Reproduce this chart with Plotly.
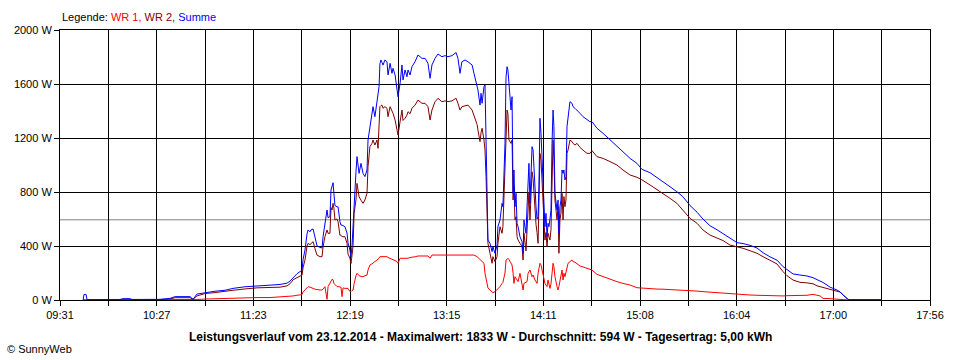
import plotly.graph_objects as go

# ---- data (time in minutes after midnight, power in W) ----
TIME_MIN = [
    584.4, 584.9, 586.1, 586.7, 588.4, 605.8, 607.6, 611.6, 612.8, 629.0,
    634.9, 637.8, 646.5, 648.2, 650.5, 655.2, 661.0, 666.8, 671.4, 678.4,
    685.4, 692.9, 698.7, 702.8, 704.5, 706.3, 708.6, 710.3, 711.5, 712.1,
    713.2, 714.4, 715.0, 716.1, 716.7, 717.9, 719.0, 720.2, 721.9, 723.1,
    723.7, 724.8, 726.0, 726.6, 727.7, 728.3, 728.9, 729.5, 730.0, 730.6,
    731.8, 732.4, 733.5, 734.1, 734.7, 735.3, 736.4, 737.6, 738.2, 739.3,
    739.9, 740.5, 741.1, 741.7, 742.2, 742.8, 743.4, 744.0, 744.6, 745.7,
    746.9, 748.0, 749.2, 749.8, 750.9, 752.1, 752.7, 753.8, 755.0, 755.6,
    756.2, 756.7, 757.3, 757.9, 758.5, 759.6, 760.8, 761.4, 762.6, 763.7,
    764.3, 765.5, 766.6, 767.2, 768.4, 769.5, 770.1, 771.3, 772.4, 773.0,
    774.2, 775.3, 777.1, 778.8, 781.1, 782.9, 784.6, 785.8, 786.9, 788.7,
    790.4, 792.7, 794.5, 796.2, 798.5, 800.9, 802.0, 803.2, 804.3, 806.1,
    807.8, 810.2, 811.3, 813.1, 813.6, 814.8, 815.4, 816.0, 817.1, 817.7,
    818.3, 818.9, 819.4, 820.6, 821.8, 822.3, 823.5, 824.7, 825.2, 826.4,
    827.6, 828.1, 829.3, 829.9, 830.5, 831.0, 831.6, 832.8, 833.4, 834.0,
    834.5, 835.1, 835.7, 836.3, 836.9, 838.0, 839.2, 839.8, 840.3, 841.5,
    842.1, 842.7, 843.2, 843.8, 845.0, 845.6, 846.7, 847.3, 847.9, 848.5,
    849.0, 849.6, 850.2, 850.8, 851.4, 851.9, 852.5, 853.1, 853.7, 854.3,
    854.8, 855.4, 856.0, 856.6, 857.2, 857.7, 858.3, 859.5, 860.1, 860.6,
    861.2, 861.8, 862.4, 863.0, 863.5, 864.1, 864.7, 865.3, 865.9, 867.0,
    868.2, 868.8, 869.9, 871.1, 872.8, 874.6, 876.9, 878.6, 879.8, 882.7,
    886.2, 890.3, 894.3, 897.8, 901.9, 905.9, 908.8, 913.5, 917.5, 921.0,
    925.1, 929.1, 932.6, 936.7, 940.8, 944.2, 948.3, 952.4, 955.9, 959.9,
    964.0, 967.5, 971.5, 975.6, 979.1, 983.1, 987.2, 990.7, 993.0, 996.5,
    1000.5, 1004.6, 1008.1, 1010.4, 1012.2, 1013.9, 1016.2, 1018.0, 1022.0, 1023.8,
    1025.5, 1027.8, 1028.4, 1029.6, 1048.1,
]

WR1_W = [
    0, 0, 0, 0, 0, 0, 0, 0, 0, 0,
    0, 0, 2, 2, 4, 7, 10, 12, 15, 16,
    18, 18, 22, 25, 27, 30, 35, 35, 40, 60,
    74, 90, 99, 95, 90, 86, 80, 76, 74, 74,
    80, 99, 5, 99, 123, 130, 153, 150, 123, 115,
    99, 99, 99, 95, 25, 90, 86, 86, 86, 62,
    62, 70, 74, 120, 160, 180, 198, 190, 180, 175,
    173, 180, 185, 222, 259, 268, 272, 285, 296, 300,
    310, 321, 321, 321, 321, 321, 321, 315, 309, 300,
    300, 296, 285, 272, 309, 309, 309, 309, 309, 309,
    315, 315, 320, 326, 326, 326, 326, 309, 333, 333,
    333, 333, 333, 333, 333, 333, 333, 333, 333, 333,
    333, 333, 333, 321, 315, 296, 290, 285, 272, 198,
    150, 99, 90, 74, 62, 54, 62, 77, 85, 99,
    123, 130, 200, 296, 300, 309, 300, 272, 259, 198,
    123, 173, 160, 148, 136, 198, 123, 74, 123, 130,
    136, 198, 210, 222, 173, 185, 148, 130, 123, 198,
    230, 272, 260, 222, 173, 150, 123, 110, 99, 148,
    120, 86, 120, 198, 272, 247, 173, 99, 74, 100,
    148, 180, 222, 148, 198, 173, 200, 247, 272, 284,
    296, 284, 280, 269, 252, 245, 235, 227, 222, 190,
    173, 153, 136, 123, 111, 91, 88, 81, 81, 80,
    78, 74, 72, 69, 66, 62, 58, 54, 50, 45,
    40, 37, 37, 35, 33, 32, 30, 30, 32, 32,
    32, 35, 42, 32, 30, 12, 12, 10, 6, 5,
    5, 3, 0, 0, 0,
]

WR2_W = [
    0, 0, 0, 0, 0, 2, 3, 3, 2, 3,
    8, 17, 17, 5, 30, 48, 55, 62, 72, 82,
    90, 93, 95, 105, 120, 150, 165, 175, 185, 240,
    296, 400, 420, 410, 420, 432, 380, 333, 321, 321,
    395, 470, 519, 494, 494, 685, 667, 716, 680, 593,
    600, 580, 480, 480, 469, 469, 469, 420, 340, 310,
    270, 330, 395, 642, 700, 741, 864, 800, 765, 740,
    716, 741, 790, 988, 1136, 1160, 1185, 1148, 1185, 1123,
    1250, 1432, 1440, 1444, 1420, 1432, 1420, 1358, 1432, 1400,
    1383, 1333, 1272, 1222, 1321, 1407, 1330, 1346, 1370, 1395,
    1380, 1420, 1444, 1481, 1457, 1457, 1432, 1333, 1407, 1469,
    1494, 1469, 1475, 1469, 1475, 1494, 1457, 1407, 1432, 1440,
    1444, 1407, 1370, 1300, 1259, 1173, 1240, 1272, 1185, 1111,
    914, 519, 420, 346, 272, 321, 284, 321, 420, 543,
    494, 543, 988, 1300, 1407, 1383, 1185, 1160, 1185, 741,
    839, 593, 617, 469, 444, 420, 395, 296, 494, 364,
    543, 741, 800, 593, 950, 900, 642, 560, 500, 420,
    716, 1086, 1037, 900, 766, 593, 444, 500, 395, 494,
    470, 444, 520, 988, 1185, 1037, 741, 593, 691, 346,
    593, 642, 790, 593, 766, 691, 741, 1086, 1111, 1185,
    1173, 1160, 1148, 1160, 1131, 1110, 1086, 1086, 1106, 1062,
    1049, 1025, 1000, 963, 926, 909, 890, 852, 820, 790,
    753, 716, 667, 605, 568, 519, 481, 457, 440, 407,
    395, 383, 365, 346, 321, 296, 267, 210, 180, 148,
    131, 127, 120, 105, 99, 90, 80, 74, 62, 59,
    40, 12, 3, 0, 0,
]

SUMME_W = [
    0, 40, 42, 3, 3, 4, 10, 10, 4, 5,
    12, 25, 25, 5, 44, 55, 65, 72, 86, 98,
    106, 110, 115, 125, 140, 165, 195, 210, 222, 300,
    370, 490, 519, 505, 519, 526, 469, 400, 390, 385,
    470, 570, 667, 610, 617, 815, 840, 869, 790, 700,
    690, 690, 580, 555, 555, 550, 543, 496, 422, 370,
    321, 400, 543, 790, 889, 950, 1062, 1000, 938, 1012,
    938, 914, 963, 1185, 1284, 1407, 1432, 1358, 1481, 1531,
    1580, 1750, 1778, 1760, 1740, 1778, 1765, 1667, 1753, 1679,
    1716, 1667, 1543, 1506, 1605, 1741, 1630, 1704, 1654, 1704,
    1667, 1728, 1765, 1815, 1790, 1790, 1753, 1642, 1741, 1790,
    1822, 1802, 1810, 1802, 1810, 1833, 1790, 1679, 1765, 1778,
    1765, 1741, 1679, 1593, 1556, 1444, 1531, 1457, 1580, 1593,
    1185, 519, 444, 420, 358, 395, 346, 407, 543, 593,
    716, 691, 1160, 1650, 1728, 1704, 1580, 1407, 1506, 790,
    963, 691, 790, 568, 543, 469, 432, 346, 593, 494,
    691, 914, 1012, 716, 1136, 1111, 790, 691, 600, 618,
    839, 1346, 1235, 1037, 914, 716, 543, 642, 469, 568,
    543, 600, 666, 1160, 1407, 1284, 790, 666, 740, 494,
    691, 740, 963, 938, 963, 889, 914, 1284, 1358, 1469,
    1457, 1432, 1420, 1407, 1383, 1358, 1333, 1321, 1321, 1272,
    1235, 1185, 1136, 1099, 1049, 1012, 968, 943, 909, 876,
    839, 802, 765, 700, 650, 600, 550, 520, 490, 455,
    425, 418, 405, 385, 350, 320, 295, 247, 227, 193,
    185, 178, 165, 153, 140, 130, 111, 95, 74, 60,
    37, 10, 5, 2, 2,
]

X_LABELS = ["09:31", "10:27", "11:23", "12:19", "13:15",
            "14:11", "15:08", "16:04", "17:00", "17:56"]
X_START_MIN = 571
X_END_MIN = 1076
Y_TICKS = [0, 400, 800, 1200, 1600, 2000]
Y_MAX = 2000
AVERAGE_W = 594

SERIES_NAMES = ["WR 1", "WR 2", "Summe"]
SERIES_COLORS = ["#FF0000", "#800000", "#0000FF"]

TITLE = ("Leistungsverlauf vom 23.12.2014 - Maximalwert: 1833 W - "
         "Durchschnitt: 594 W - Tagesertrag: 5,00 kWh")
FOOTER = "© SunnyWeb"

# ---- figure ----
FONT = "Liberation Sans, Arial, sans-serif"

fig = go.Figure()
for name, vals, color in zip(SERIES_NAMES, [WR1_W, WR2_W, SUMME_W], SERIES_COLORS):
    fig.add_trace(go.Scatter(x=TIME_MIN, y=vals, mode="lines", name=name,
                             line=dict(color=color, width=1), showlegend=False,
                             hoverinfo="skip"))

n_steps = (len(X_LABELS) - 1) * 2
step = (X_END_MIN - X_START_MIN) / n_steps
tickvals = [X_START_MIN + i * step for i in range(n_steps + 1)]
ticktext = [X_LABELS[i // 2] if i % 2 == 0 else "" for i in range(n_steps + 1)]

fig.add_shape(type="line", xref="paper", x0=0, x1=1, yref="y",
              y0=AVERAGE_W, y1=AVERAGE_W,
              line=dict(color="#808080", width=1), layer="between")

fig.update_xaxes(range=[X_START_MIN, X_END_MIN], tickvals=tickvals, ticktext=ticktext,
                 showgrid=True, gridcolor="black", gridwidth=1,
                 ticks="outside", ticklen=5, tickcolor="black", tickwidth=1,
                 showline=True, linecolor="black", linewidth=1, mirror=True,
                 zeroline=False, tickfont=dict(size=11, color="black", family=FONT))
fig.update_yaxes(range=[0, Y_MAX], tickvals=Y_TICKS,
                 ticktext=[f"{v} W" for v in Y_TICKS],
                 showgrid=True, gridcolor="black", gridwidth=1,
                 ticks="outside", ticklen=5, tickcolor="black", tickwidth=1,
                 showline=True, linecolor="black", linewidth=1, mirror=True,
                 zeroline=False, tickfont=dict(size=11, color="black", family=FONT))

legend_html = ("Legende: "
               + " ".join(f"<span style='color:{c}'>{n}{',' if i < len(SERIES_NAMES) - 1 else ''}</span>"
                          for i, (n, c) in enumerate(zip(SERIES_NAMES, SERIES_COLORS))))

fig.add_annotation(text=legend_html, xref="paper", yref="paper", x=0, y=1.048,
                   xanchor="left", yanchor="middle", showarrow=False,
                   font=dict(size=11, color="black", family=FONT))
fig.add_annotation(text=f"<b>{TITLE}</b>", xref="paper", yref="paper",
                   x=0.4828, y=-0.137, xanchor="center", yanchor="middle",
                   showarrow=False, font=dict(size=12, color="black", family=FONT))
fig.add_annotation(text=FOOTER, xref="paper", yref="paper", x=-0.0632, y=-0.1815,
                   xanchor="left", yanchor="middle", showarrow=False,
                   font=dict(size=11, color="black", family=FONT))

fig.update_layout(width=960, height=360,
                  margin=dict(l=60, r=30, t=30, b=60, autoexpand=False),
                  paper_bgcolor="white", plot_bgcolor="white",
                  font=dict(family=FONT, size=11, color="black"))

fig.write_html("out.html", config={"displayModeBar": False},
               post_script="document.body.style.margin='0';document.body.style.overflow='hidden';")
